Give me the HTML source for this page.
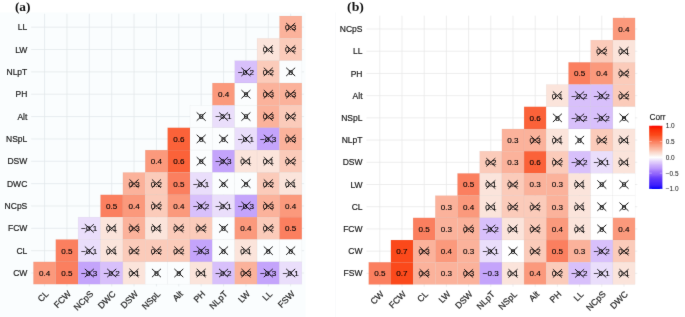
<!DOCTYPE html>
<html><head><meta charset="utf-8"><title>Correlation matrices</title>
<style>
html,body{margin:0;padding:0;background:#fff;}
body{width:685px;height:317px;overflow:hidden;}
svg{display:block;font-family:"Liberation Sans",sans-serif;}
.ttl{font-family:"Liberation Serif",serif;font-weight:bold;font-size:13px;fill:#111;}
</style></head><body>
<svg width="685" height="317" viewBox="0 0 685 317">
<defs><filter id="bl" x="0" y="0" width="685" height="317" filterUnits="userSpaceOnUse" color-interpolation-filters="sRGB"><feConvolveMatrix order="3" kernelMatrix="0.0052 0.0619 0.0052 0.0619 0.7314 0.0619 0.0052 0.0619 0.0052" divisor="1" edgeMode="duplicate" preserveAlpha="true"/></filter></defs>
<g id="all" filter="url(#bl)">
<rect x="-2" y="-2" width="689" height="321" fill="#fff"/>
<rect x="0" y="12.5" width="305.5" height="304.5" fill="#fafdfe"/>
<path d="M335.6 12.5V317" stroke="#f4f5f6" stroke-width="0.6"/>
<text class="ttl" x="14.9" y="10.9" textLength="15.6" lengthAdjust="spacingAndGlyphs">(a)</text>
<text class="ttl" x="347.1" y="11.1" textLength="16.8" lengthAdjust="spacingAndGlyphs">(b)</text>
<path d="M44.59 13.77V286.44M31.16 27.18H304.08M66.95 13.77V286.44M31.16 49.53H304.08M89.33 13.77V286.44M31.16 71.88H304.08M111.69 13.77V286.44M31.16 94.23H304.08M134.06 13.77V286.44M31.16 116.58H304.08M156.44 13.77V286.44M31.16 138.93H304.08M178.81 13.77V286.44M31.16 161.28H304.08M201.18 13.77V286.44M31.16 183.62H304.08M223.55 13.77V286.44M31.16 205.98H304.08M245.92 13.77V286.44M31.16 228.33H304.08M268.29 13.77V286.44M31.16 250.68H304.08M290.65 13.77V286.44M31.16 273.03H304.08" stroke="#e1e6e9" stroke-width="0.7" fill="none"/>
<g stroke="#8a8a8a" stroke-opacity="0.10" stroke-width="0.5"><rect x="279.47" y="16" width="22.37" height="22.35" fill="#FBB29B"/><rect x="257.1" y="38.35" width="22.37" height="22.35" fill="#FBE4DB"/><rect x="279.47" y="38.35" width="22.37" height="22.35" fill="#FBCBBA"/><rect x="234.73" y="60.7" width="22.37" height="22.35" fill="#D8C0FB"/><rect x="257.1" y="60.7" width="22.37" height="22.35" fill="#FBCBBA"/><rect x="279.47" y="60.7" width="22.37" height="22.35" fill="#fbfdfe"/><rect x="212.36" y="83.05" width="22.37" height="22.35" fill="#FB997C"/><rect x="234.73" y="83.05" width="22.37" height="22.35" fill="#fbfdfe"/><rect x="257.1" y="83.05" width="22.37" height="22.35" fill="#FBB29B"/><rect x="279.47" y="83.05" width="22.37" height="22.35" fill="#FBB29B"/><rect x="189.99" y="105.4" width="22.37" height="22.35" fill="#fbfdfe"/><rect x="212.36" y="105.4" width="22.37" height="22.35" fill="#EADEFB"/><rect x="234.73" y="105.4" width="22.37" height="22.35" fill="#fbfdfe"/><rect x="257.1" y="105.4" width="22.37" height="22.35" fill="#FBB29B"/><rect x="279.47" y="105.4" width="22.37" height="22.35" fill="#FBCBBA"/><rect x="167.62" y="127.75" width="22.37" height="22.35" fill="#FB6239"/><rect x="189.99" y="127.75" width="22.37" height="22.35" fill="#fbfdfe"/><rect x="212.36" y="127.75" width="22.37" height="22.35" fill="#fbfdfe"/><rect x="234.73" y="127.75" width="22.37" height="22.35" fill="#EADEFB"/><rect x="257.1" y="127.75" width="22.37" height="22.35" fill="#C4A4FB"/><rect x="279.47" y="127.75" width="22.37" height="22.35" fill="#FBB29B"/><rect x="145.25" y="150.1" width="22.37" height="22.35" fill="#FB997C"/><rect x="167.62" y="150.1" width="22.37" height="22.35" fill="#FB6239"/><rect x="189.99" y="150.1" width="22.37" height="22.35" fill="#fbfdfe"/><rect x="212.36" y="150.1" width="22.37" height="22.35" fill="#C4A4FB"/><rect x="234.73" y="150.1" width="22.37" height="22.35" fill="#FBE4DB"/><rect x="257.1" y="150.1" width="22.37" height="22.35" fill="#FBE4DB"/><rect x="279.47" y="150.1" width="22.37" height="22.35" fill="#FBCBBA"/><rect x="122.88" y="172.45" width="22.37" height="22.35" fill="#FBB29B"/><rect x="145.25" y="172.45" width="22.37" height="22.35" fill="#FBCBBA"/><rect x="167.62" y="172.45" width="22.37" height="22.35" fill="#FB7F5F"/><rect x="189.99" y="172.45" width="22.37" height="22.35" fill="#EADEFB"/><rect x="212.36" y="172.45" width="22.37" height="22.35" fill="#fbfdfe"/><rect x="234.73" y="172.45" width="22.37" height="22.35" fill="#fbfdfe"/><rect x="257.1" y="172.45" width="22.37" height="22.35" fill="#FBCBBA"/><rect x="279.47" y="172.45" width="22.37" height="22.35" fill="#FBE4DB"/><rect x="100.51" y="194.8" width="22.37" height="22.35" fill="#FB7F5F"/><rect x="122.88" y="194.8" width="22.37" height="22.35" fill="#FB997C"/><rect x="145.25" y="194.8" width="22.37" height="22.35" fill="#FBCBBA"/><rect x="167.62" y="194.8" width="22.37" height="22.35" fill="#FB997C"/><rect x="189.99" y="194.8" width="22.37" height="22.35" fill="#D8C0FB"/><rect x="212.36" y="194.8" width="22.37" height="22.35" fill="#EADEFB"/><rect x="234.73" y="194.8" width="22.37" height="22.35" fill="#C4A4FB"/><rect x="257.1" y="194.8" width="22.37" height="22.35" fill="#FBB29B"/><rect x="279.47" y="194.8" width="22.37" height="22.35" fill="#FB997C"/><rect x="78.14" y="217.15" width="22.37" height="22.35" fill="#EADEFB"/><rect x="100.51" y="217.15" width="22.37" height="22.35" fill="#FBE4DB"/><rect x="122.88" y="217.15" width="22.37" height="22.35" fill="#FBB29B"/><rect x="145.25" y="217.15" width="22.37" height="22.35" fill="#FBE4DB"/><rect x="167.62" y="217.15" width="22.37" height="22.35" fill="#FBCBBA"/><rect x="189.99" y="217.15" width="22.37" height="22.35" fill="#FBCBBA"/><rect x="212.36" y="217.15" width="22.37" height="22.35" fill="#fbfdfe"/><rect x="234.73" y="217.15" width="22.37" height="22.35" fill="#FB997C"/><rect x="257.1" y="217.15" width="22.37" height="22.35" fill="#FBCBBA"/><rect x="279.47" y="217.15" width="22.37" height="22.35" fill="#FB7F5F"/><rect x="55.77" y="239.5" width="22.37" height="22.35" fill="#FB7F5F"/><rect x="78.14" y="239.5" width="22.37" height="22.35" fill="#EADEFB"/><rect x="100.51" y="239.5" width="22.37" height="22.35" fill="#FBE4DB"/><rect x="122.88" y="239.5" width="22.37" height="22.35" fill="#FBCBBA"/><rect x="145.25" y="239.5" width="22.37" height="22.35" fill="#FBCBBA"/><rect x="167.62" y="239.5" width="22.37" height="22.35" fill="#FBCBBA"/><rect x="189.99" y="239.5" width="22.37" height="22.35" fill="#C4A4FB"/><rect x="212.36" y="239.5" width="22.37" height="22.35" fill="#fbfdfe"/><rect x="234.73" y="239.5" width="22.37" height="22.35" fill="#FBE4DB"/><rect x="257.1" y="239.5" width="22.37" height="22.35" fill="#fbfdfe"/><rect x="279.47" y="239.5" width="22.37" height="22.35" fill="#fbfdfe"/><rect x="33.4" y="261.85" width="22.37" height="22.35" fill="#FB997C"/><rect x="55.77" y="261.85" width="22.37" height="22.35" fill="#FB7F5F"/><rect x="78.14" y="261.85" width="22.37" height="22.35" fill="#C4A4FB"/><rect x="100.51" y="261.85" width="22.37" height="22.35" fill="#D8C0FB"/><rect x="122.88" y="261.85" width="22.37" height="22.35" fill="#FBE4DB"/><rect x="145.25" y="261.85" width="22.37" height="22.35" fill="#fbfdfe"/><rect x="167.62" y="261.85" width="22.37" height="22.35" fill="#fbfdfe"/><rect x="189.99" y="261.85" width="22.37" height="22.35" fill="#FBE4DB"/><rect x="212.36" y="261.85" width="22.37" height="22.35" fill="#D8C0FB"/><rect x="234.73" y="261.85" width="22.37" height="22.35" fill="#FBB29B"/><rect x="257.1" y="261.85" width="22.37" height="22.35" fill="#C4A4FB"/><rect x="279.47" y="261.85" width="22.37" height="22.35" fill="#EADEFB"/></g>
<g font-size="8.1" text-anchor="middle" fill="#000" stroke="#000" stroke-width="0.12"><text x="290.66" y="30.09">0.3</text><text x="268.29" y="52.44">0.1</text><text x="290.66" y="52.44">0.2</text><text x="245.92" y="74.79">−0.2</text><text x="268.29" y="74.79">0.2</text><text x="290.66" y="74.79">0</text><text x="223.55" y="97.14">0.4</text><text x="245.92" y="97.14">0</text><text x="268.29" y="97.14">0.3</text><text x="290.66" y="97.14">0.3</text><text x="201.18" y="119.49">0</text><text x="223.55" y="119.49">−0.1</text><text x="245.92" y="119.49">0</text><text x="268.29" y="119.49">0.3</text><text x="290.66" y="119.49">0.2</text><text x="178.81" y="141.84">0.6</text><text x="201.18" y="141.84">0</text><text x="223.55" y="141.84">0</text><text x="245.92" y="141.84">−0.1</text><text x="268.29" y="141.84">−0.3</text><text x="290.66" y="141.84">0.3</text><text x="156.44" y="164.19">0.4</text><text x="178.81" y="164.19">0.6</text><text x="201.18" y="164.19">0</text><text x="223.55" y="164.19">−0.3</text><text x="245.92" y="164.19">0.1</text><text x="268.29" y="164.19">0.1</text><text x="290.66" y="164.19">0.2</text><text x="134.06" y="186.54">0.3</text><text x="156.44" y="186.54">0.2</text><text x="178.81" y="186.54">0.5</text><text x="201.18" y="186.54">−0.1</text><text x="223.55" y="186.54">0</text><text x="245.92" y="186.54">0</text><text x="268.29" y="186.54">0.2</text><text x="290.66" y="186.54">0.1</text><text x="111.69" y="208.89">0.5</text><text x="134.06" y="208.89">0.4</text><text x="156.44" y="208.89">0.2</text><text x="178.81" y="208.89">0.4</text><text x="201.18" y="208.89">−0.2</text><text x="223.55" y="208.89">−0.1</text><text x="245.92" y="208.89">−0.3</text><text x="268.29" y="208.89">0.3</text><text x="290.66" y="208.89">0.4</text><text x="89.33" y="231.24">−0.1</text><text x="111.69" y="231.24">0.1</text><text x="134.06" y="231.24">0.3</text><text x="156.44" y="231.24">0.1</text><text x="178.81" y="231.24">0.2</text><text x="201.18" y="231.24">0.2</text><text x="223.55" y="231.24">0</text><text x="245.92" y="231.24">0.4</text><text x="268.29" y="231.24">0.2</text><text x="290.66" y="231.24">0.5</text><text x="66.95" y="253.59">0.5</text><text x="89.33" y="253.59">−0.1</text><text x="111.69" y="253.59">0.1</text><text x="134.06" y="253.59">0.2</text><text x="156.44" y="253.59">0.2</text><text x="178.81" y="253.59">0.2</text><text x="201.18" y="253.59">−0.3</text><text x="223.55" y="253.59">0</text><text x="245.92" y="253.59">0.1</text><text x="268.29" y="253.59">0</text><text x="290.66" y="253.59">0</text><text x="44.59" y="275.94">0.4</text><text x="66.95" y="275.94">0.5</text><text x="89.33" y="275.94">−0.3</text><text x="111.69" y="275.94">−0.2</text><text x="134.06" y="275.94">0.1</text><text x="156.44" y="275.94">0</text><text x="178.81" y="275.94">0</text><text x="201.18" y="275.94">0.1</text><text x="223.55" y="275.94">−0.2</text><text x="245.92" y="275.94">0.3</text><text x="268.29" y="275.94">−0.3</text><text x="290.66" y="275.94">−0.1</text></g>
<path d="M286.16 23.02l9 8.3M286.16 31.33l9 -8.3M263.79 45.38l9 8.3M263.79 53.68l9 -8.3M286.16 45.38l9 8.3M286.16 53.68l9 -8.3M241.42 67.72l9 8.3M241.42 76.03l9 -8.3M263.79 67.72l9 8.3M263.79 76.03l9 -8.3M286.16 67.72l9 8.3M286.16 76.03l9 -8.3M241.42 90.08l9 8.3M241.42 98.38l9 -8.3M263.79 90.08l9 8.3M263.79 98.38l9 -8.3M286.16 90.08l9 8.3M286.16 98.38l9 -8.3M196.68 112.42l9 8.3M196.68 120.73l9 -8.3M219.05 112.42l9 8.3M219.05 120.73l9 -8.3M241.42 112.42l9 8.3M241.42 120.73l9 -8.3M263.79 112.42l9 8.3M263.79 120.73l9 -8.3M286.16 112.42l9 8.3M286.16 120.73l9 -8.3M196.68 134.78l9 8.3M196.68 143.08l9 -8.3M219.05 134.78l9 8.3M219.05 143.08l9 -8.3M241.42 134.78l9 8.3M241.42 143.08l9 -8.3M263.79 134.78l9 8.3M263.79 143.08l9 -8.3M286.16 134.78l9 8.3M286.16 143.08l9 -8.3M196.68 157.13l9 8.3M196.68 165.43l9 -8.3M219.05 157.13l9 8.3M219.05 165.43l9 -8.3M241.42 157.13l9 8.3M241.42 165.43l9 -8.3M263.79 157.13l9 8.3M263.79 165.43l9 -8.3M286.16 157.13l9 8.3M286.16 165.43l9 -8.3M129.56 179.48l9 8.3M129.56 187.78l9 -8.3M151.94 179.48l9 8.3M151.94 187.78l9 -8.3M196.68 179.48l9 8.3M196.68 187.78l9 -8.3M219.05 179.48l9 8.3M219.05 187.78l9 -8.3M241.42 179.48l9 8.3M241.42 187.78l9 -8.3M263.79 179.48l9 8.3M263.79 187.78l9 -8.3M286.16 179.48l9 8.3M286.16 187.78l9 -8.3M151.94 201.83l9 8.3M151.94 210.13l9 -8.3M196.68 201.83l9 8.3M196.68 210.13l9 -8.3M219.05 201.83l9 8.3M219.05 210.13l9 -8.3M241.42 201.83l9 8.3M241.42 210.13l9 -8.3M263.79 201.83l9 8.3M263.79 210.13l9 -8.3M84.83 224.18l9 8.3M84.83 232.48l9 -8.3M107.19 224.18l9 8.3M107.19 232.48l9 -8.3M129.56 224.18l9 8.3M129.56 232.48l9 -8.3M151.94 224.18l9 8.3M151.94 232.48l9 -8.3M174.31 224.18l9 8.3M174.31 232.48l9 -8.3M196.68 224.18l9 8.3M196.68 232.48l9 -8.3M219.05 224.18l9 8.3M219.05 232.48l9 -8.3M263.79 224.18l9 8.3M263.79 232.48l9 -8.3M84.83 246.53l9 8.3M84.83 254.83l9 -8.3M107.19 246.53l9 8.3M107.19 254.83l9 -8.3M129.56 246.53l9 8.3M129.56 254.83l9 -8.3M151.94 246.53l9 8.3M151.94 254.83l9 -8.3M174.31 246.53l9 8.3M174.31 254.83l9 -8.3M196.68 246.53l9 8.3M196.68 254.83l9 -8.3M219.05 246.53l9 8.3M219.05 254.83l9 -8.3M241.42 246.53l9 8.3M241.42 254.83l9 -8.3M263.79 246.53l9 8.3M263.79 254.83l9 -8.3M286.16 246.53l9 8.3M286.16 254.83l9 -8.3M84.83 268.88l9 8.3M84.83 277.18l9 -8.3M107.19 268.88l9 8.3M107.19 277.18l9 -8.3M129.56 268.88l9 8.3M129.56 277.18l9 -8.3M151.94 268.88l9 8.3M151.94 277.18l9 -8.3M174.31 268.88l9 8.3M174.31 277.18l9 -8.3M196.68 268.88l9 8.3M196.68 277.18l9 -8.3M219.05 268.88l9 8.3M219.05 277.18l9 -8.3M241.42 268.88l9 8.3M241.42 277.18l9 -8.3M263.79 268.88l9 8.3M263.79 277.18l9 -8.3M286.16 268.88l9 8.3M286.16 277.18l9 -8.3" stroke="#000" stroke-width="0.9" fill="none"/>
<g font-size="8.5" text-anchor="end" fill="#222" stroke="#222" stroke-width="0.2"><text x="27.3" y="30.23">LL</text><text x="27.3" y="52.59">LW</text><text x="27.3" y="74.94">NLpT</text><text x="27.3" y="97.29">PH</text><text x="27.3" y="119.64">Alt</text><text x="27.3" y="141.99">NSpL</text><text x="27.3" y="164.34">DSW</text><text x="27.3" y="186.69">DWC</text><text x="27.3" y="209.04">NCpS</text><text x="27.3" y="231.39">FCW</text><text x="27.3" y="253.74">CL</text><text x="27.3" y="276.09">CW</text></g>
<g font-size="8.8" text-anchor="end" fill="#222" stroke="#222" stroke-width="0.2"><text transform="translate(44.59 289.84) rotate(-45)" x="0" y="6.51">CL</text><text transform="translate(66.95 289.84) rotate(-45)" x="0" y="6.51">FCW</text><text transform="translate(89.33 289.84) rotate(-45)" x="0" y="6.51">NCpS</text><text transform="translate(111.69 289.84) rotate(-45)" x="0" y="6.51">DWC</text><text transform="translate(134.06 289.84) rotate(-45)" x="0" y="6.51">DSW</text><text transform="translate(156.44 289.84) rotate(-45)" x="0" y="6.51">NSpL</text><text transform="translate(178.81 289.84) rotate(-45)" x="0" y="6.51">Alt</text><text transform="translate(201.18 289.84) rotate(-45)" x="0" y="6.51">PH</text><text transform="translate(223.55 289.84) rotate(-45)" x="0" y="6.51">NLpT</text><text transform="translate(245.92 289.84) rotate(-45)" x="0" y="6.51">LW</text><text transform="translate(268.29 289.84) rotate(-45)" x="0" y="6.51">LL</text><text transform="translate(290.65 289.84) rotate(-45)" x="0" y="6.51">FSW</text></g>
<path d="M379.8 15.68V286.7M366.48 29.01H637.32M402 15.68V286.7M366.48 51.22H637.32M424.2 15.68V286.7M366.48 73.44H637.32M446.4 15.68V286.7M366.48 95.65H637.32M468.6 15.68V286.7M366.48 117.87H637.32M490.8 15.68V286.7M366.48 140.08H637.32M513 15.68V286.7M366.48 162.3H637.32M535.2 15.68V286.7M366.48 184.51H637.32M557.4 15.68V286.7M366.48 206.73H637.32M579.6 15.68V286.7M366.48 228.94H637.32M601.8 15.68V286.7M366.48 251.16H637.32M624 15.68V286.7M366.48 273.37H637.32" stroke="#e6e6e6" stroke-width="0.7" fill="none"/>
<g stroke="#8a8a8a" stroke-opacity="0.10" stroke-width="0.5"><rect x="612.9" y="17.9" width="22.2" height="22.21" fill="#FB997C"/><rect x="590.7" y="40.11" width="22.2" height="22.21" fill="#FBCBBA"/><rect x="612.9" y="40.11" width="22.2" height="22.21" fill="#FBE4DB"/><rect x="568.5" y="62.33" width="22.2" height="22.21" fill="#FB7F5F"/><rect x="590.7" y="62.33" width="22.2" height="22.21" fill="#FB997C"/><rect x="612.9" y="62.33" width="22.2" height="22.21" fill="#FBCBBA"/><rect x="546.3" y="84.54" width="22.2" height="22.21" fill="#FBE4DB"/><rect x="568.5" y="84.54" width="22.2" height="22.21" fill="#D8C0FB"/><rect x="590.7" y="84.54" width="22.2" height="22.21" fill="#D8C0FB"/><rect x="612.9" y="84.54" width="22.2" height="22.21" fill="#FBCBBA"/><rect x="524.1" y="106.76" width="22.2" height="22.21" fill="#FB6239"/><rect x="546.3" y="106.76" width="22.2" height="22.21" fill="#FFFFFF"/><rect x="568.5" y="106.76" width="22.2" height="22.21" fill="#D8C0FB"/><rect x="590.7" y="106.76" width="22.2" height="22.21" fill="#D8C0FB"/><rect x="612.9" y="106.76" width="22.2" height="22.21" fill="#FFFFFF"/><rect x="501.9" y="128.97" width="22.2" height="22.21" fill="#FBB29B"/><rect x="524.1" y="128.97" width="22.2" height="22.21" fill="#FBB29B"/><rect x="546.3" y="128.97" width="22.2" height="22.21" fill="#FBE4DB"/><rect x="568.5" y="128.97" width="22.2" height="22.21" fill="#FFFFFF"/><rect x="590.7" y="128.97" width="22.2" height="22.21" fill="#FBCBBA"/><rect x="612.9" y="128.97" width="22.2" height="22.21" fill="#FBE4DB"/><rect x="479.7" y="151.19" width="22.2" height="22.21" fill="#FBCBBA"/><rect x="501.9" y="151.19" width="22.2" height="22.21" fill="#FBB29B"/><rect x="524.1" y="151.19" width="22.2" height="22.21" fill="#FB6239"/><rect x="546.3" y="151.19" width="22.2" height="22.21" fill="#FBCBBA"/><rect x="568.5" y="151.19" width="22.2" height="22.21" fill="#D8C0FB"/><rect x="590.7" y="151.19" width="22.2" height="22.21" fill="#EADEFB"/><rect x="612.9" y="151.19" width="22.2" height="22.21" fill="#FBE4DB"/><rect x="457.5" y="173.41" width="22.2" height="22.21" fill="#FB7F5F"/><rect x="479.7" y="173.41" width="22.2" height="22.21" fill="#FBE4DB"/><rect x="501.9" y="173.41" width="22.2" height="22.21" fill="#FBCBBA"/><rect x="524.1" y="173.41" width="22.2" height="22.21" fill="#FBB29B"/><rect x="546.3" y="173.41" width="22.2" height="22.21" fill="#FBB29B"/><rect x="568.5" y="173.41" width="22.2" height="22.21" fill="#FBE4DB"/><rect x="590.7" y="173.41" width="22.2" height="22.21" fill="#FFFFFF"/><rect x="612.9" y="173.41" width="22.2" height="22.21" fill="#FFFFFF"/><rect x="435.3" y="195.62" width="22.2" height="22.21" fill="#FBB29B"/><rect x="457.5" y="195.62" width="22.2" height="22.21" fill="#FB997C"/><rect x="479.7" y="195.62" width="22.2" height="22.21" fill="#FBE4DB"/><rect x="501.9" y="195.62" width="22.2" height="22.21" fill="#FBCBBA"/><rect x="524.1" y="195.62" width="22.2" height="22.21" fill="#FBCBBA"/><rect x="546.3" y="195.62" width="22.2" height="22.21" fill="#FBB29B"/><rect x="568.5" y="195.62" width="22.2" height="22.21" fill="#FBE4DB"/><rect x="590.7" y="195.62" width="22.2" height="22.21" fill="#FFFFFF"/><rect x="612.9" y="195.62" width="22.2" height="22.21" fill="#FFFFFF"/><rect x="413.1" y="217.84" width="22.2" height="22.21" fill="#FB7F5F"/><rect x="435.3" y="217.84" width="22.2" height="22.21" fill="#FBB29B"/><rect x="457.5" y="217.84" width="22.2" height="22.21" fill="#FBB29B"/><rect x="479.7" y="217.84" width="22.2" height="22.21" fill="#D8C0FB"/><rect x="501.9" y="217.84" width="22.2" height="22.21" fill="#FBE4DB"/><rect x="524.1" y="217.84" width="22.2" height="22.21" fill="#FBCBBA"/><rect x="546.3" y="217.84" width="22.2" height="22.21" fill="#FB997C"/><rect x="568.5" y="217.84" width="22.2" height="22.21" fill="#FBE4DB"/><rect x="590.7" y="217.84" width="22.2" height="22.21" fill="#FFFFFF"/><rect x="612.9" y="217.84" width="22.2" height="22.21" fill="#FB997C"/><rect x="390.9" y="240.05" width="22.2" height="22.21" fill="#FB491B"/><rect x="413.1" y="240.05" width="22.2" height="22.21" fill="#FBB29B"/><rect x="435.3" y="240.05" width="22.2" height="22.21" fill="#FB997C"/><rect x="457.5" y="240.05" width="22.2" height="22.21" fill="#FBB29B"/><rect x="479.7" y="240.05" width="22.2" height="22.21" fill="#EADEFB"/><rect x="501.9" y="240.05" width="22.2" height="22.21" fill="#FFFFFF"/><rect x="524.1" y="240.05" width="22.2" height="22.21" fill="#FBCBBA"/><rect x="546.3" y="240.05" width="22.2" height="22.21" fill="#FB7F5F"/><rect x="568.5" y="240.05" width="22.2" height="22.21" fill="#FBB29B"/><rect x="590.7" y="240.05" width="22.2" height="22.21" fill="#D8C0FB"/><rect x="612.9" y="240.05" width="22.2" height="22.21" fill="#FBCBBA"/><rect x="368.7" y="262.26" width="22.2" height="22.21" fill="#FB7F5F"/><rect x="390.9" y="262.26" width="22.2" height="22.21" fill="#FB491B"/><rect x="413.1" y="262.26" width="22.2" height="22.21" fill="#FBB29B"/><rect x="435.3" y="262.26" width="22.2" height="22.21" fill="#FBB29B"/><rect x="457.5" y="262.26" width="22.2" height="22.21" fill="#FBB29B"/><rect x="479.7" y="262.26" width="22.2" height="22.21" fill="#C4A4FB"/><rect x="501.9" y="262.26" width="22.2" height="22.21" fill="#FBE4DB"/><rect x="524.1" y="262.26" width="22.2" height="22.21" fill="#FB997C"/><rect x="546.3" y="262.26" width="22.2" height="22.21" fill="#FBCBBA"/><rect x="568.5" y="262.26" width="22.2" height="22.21" fill="#D8C0FB"/><rect x="590.7" y="262.26" width="22.2" height="22.21" fill="#EADEFB"/><rect x="612.9" y="262.26" width="22.2" height="22.21" fill="#FBE4DB"/></g>
<g font-size="8.1" text-anchor="middle" fill="#000" stroke="#000" stroke-width="0.12"><text x="624" y="31.92">0.4</text><text x="601.8" y="54.14">0.2</text><text x="624" y="54.14">0.1</text><text x="579.6" y="76.35">0.5</text><text x="601.8" y="76.35">0.4</text><text x="624" y="76.35">0.2</text><text x="557.4" y="98.57">0.1</text><text x="579.6" y="98.57">−0.2</text><text x="601.8" y="98.57">−0.2</text><text x="624" y="98.57">0.2</text><text x="535.2" y="120.78">0.6</text><text x="557.4" y="120.78">0</text><text x="579.6" y="120.78">−0.2</text><text x="601.8" y="120.78">−0.2</text><text x="624" y="120.78">0</text><text x="513" y="143">0.3</text><text x="535.2" y="143">0.3</text><text x="557.4" y="143">0.1</text><text x="579.6" y="143">0</text><text x="601.8" y="143">0.2</text><text x="624" y="143">0.1</text><text x="490.8" y="165.21">0.2</text><text x="513" y="165.21">0.3</text><text x="535.2" y="165.21">0.6</text><text x="557.4" y="165.21">0.2</text><text x="579.6" y="165.21">−0.2</text><text x="601.8" y="165.21">−0.1</text><text x="624" y="165.21">0.1</text><text x="468.6" y="187.43">0.5</text><text x="490.8" y="187.43">0.1</text><text x="513" y="187.43">0.2</text><text x="535.2" y="187.43">0.3</text><text x="557.4" y="187.43">0.3</text><text x="579.6" y="187.43">0.1</text><text x="601.8" y="187.43">0</text><text x="624" y="187.43">0</text><text x="446.4" y="209.64">0.3</text><text x="468.6" y="209.64">0.4</text><text x="490.8" y="209.64">0.1</text><text x="513" y="209.64">0.2</text><text x="535.2" y="209.64">0.2</text><text x="557.4" y="209.64">0.3</text><text x="579.6" y="209.64">0.1</text><text x="601.8" y="209.64">0</text><text x="624" y="209.64">0</text><text x="424.2" y="231.86">0.5</text><text x="446.4" y="231.86">0.3</text><text x="468.6" y="231.86">0.3</text><text x="490.8" y="231.86">−0.2</text><text x="513" y="231.86">0.1</text><text x="535.2" y="231.86">0.2</text><text x="557.4" y="231.86">0.4</text><text x="579.6" y="231.86">0.1</text><text x="601.8" y="231.86">0</text><text x="624" y="231.86">0.4</text><text x="402" y="254.07">0.7</text><text x="424.2" y="254.07">0.3</text><text x="446.4" y="254.07">0.4</text><text x="468.6" y="254.07">0.3</text><text x="490.8" y="254.07">−0.1</text><text x="513" y="254.07">0</text><text x="535.2" y="254.07">0.2</text><text x="557.4" y="254.07">0.5</text><text x="579.6" y="254.07">0.3</text><text x="601.8" y="254.07">−0.2</text><text x="624" y="254.07">0.2</text><text x="379.8" y="276.29">0.5</text><text x="402" y="276.29">0.7</text><text x="424.2" y="276.29">0.3</text><text x="446.4" y="276.29">0.3</text><text x="468.6" y="276.29">0.3</text><text x="490.8" y="276.29">−0.3</text><text x="513" y="276.29">0.1</text><text x="535.2" y="276.29">0.4</text><text x="557.4" y="276.29">0.2</text><text x="579.6" y="276.29">−0.2</text><text x="601.8" y="276.29">−0.1</text><text x="624" y="276.29">0.1</text></g>
<path d="M597.3 47.07l9 8.3M597.3 55.37l9 -8.3M619.5 47.07l9 8.3M619.5 55.37l9 -8.3M619.5 69.29l9 8.3M619.5 77.59l9 -8.3M552.9 91.5l9 8.3M552.9 99.8l9 -8.3M575.1 91.5l9 8.3M575.1 99.8l9 -8.3M597.3 91.5l9 8.3M597.3 99.8l9 -8.3M619.5 91.5l9 8.3M619.5 99.8l9 -8.3M552.9 113.72l9 8.3M552.9 122.02l9 -8.3M575.1 113.72l9 8.3M575.1 122.02l9 -8.3M597.3 113.72l9 8.3M597.3 122.02l9 -8.3M619.5 113.72l9 8.3M619.5 122.02l9 -8.3M530.7 135.93l9 8.3M530.7 144.23l9 -8.3M552.9 135.93l9 8.3M552.9 144.23l9 -8.3M575.1 135.93l9 8.3M575.1 144.23l9 -8.3M597.3 135.93l9 8.3M597.3 144.23l9 -8.3M619.5 135.93l9 8.3M619.5 144.23l9 -8.3M486.3 158.15l9 8.3M486.3 166.45l9 -8.3M552.9 158.15l9 8.3M552.9 166.45l9 -8.3M575.1 158.15l9 8.3M575.1 166.45l9 -8.3M597.3 158.15l9 8.3M597.3 166.45l9 -8.3M619.5 158.15l9 8.3M619.5 166.45l9 -8.3M486.3 180.36l9 8.3M486.3 188.66l9 -8.3M508.5 180.36l9 8.3M508.5 188.66l9 -8.3M575.1 180.36l9 8.3M575.1 188.66l9 -8.3M597.3 180.36l9 8.3M597.3 188.66l9 -8.3M619.5 180.36l9 8.3M619.5 188.66l9 -8.3M486.3 202.58l9 8.3M486.3 210.88l9 -8.3M508.5 202.58l9 8.3M508.5 210.88l9 -8.3M530.7 202.58l9 8.3M530.7 210.88l9 -8.3M575.1 202.58l9 8.3M575.1 210.88l9 -8.3M597.3 202.58l9 8.3M597.3 210.88l9 -8.3M619.5 202.58l9 8.3M619.5 210.88l9 -8.3M464.1 224.79l9 8.3M464.1 233.09l9 -8.3M486.3 224.79l9 8.3M486.3 233.09l9 -8.3M508.5 224.79l9 8.3M508.5 233.09l9 -8.3M530.7 224.79l9 8.3M530.7 233.09l9 -8.3M575.1 224.79l9 8.3M575.1 233.09l9 -8.3M597.3 224.79l9 8.3M597.3 233.09l9 -8.3M419.7 247.01l9 8.3M419.7 255.31l9 -8.3M486.3 247.01l9 8.3M486.3 255.31l9 -8.3M508.5 247.01l9 8.3M508.5 255.31l9 -8.3M530.7 247.01l9 8.3M530.7 255.31l9 -8.3M597.3 247.01l9 8.3M597.3 255.31l9 -8.3M619.5 247.01l9 8.3M619.5 255.31l9 -8.3M419.7 269.22l9 8.3M419.7 277.52l9 -8.3M464.1 269.22l9 8.3M464.1 277.52l9 -8.3M508.5 269.22l9 8.3M508.5 277.52l9 -8.3M552.9 269.22l9 8.3M552.9 277.52l9 -8.3M575.1 269.22l9 8.3M575.1 277.52l9 -8.3M597.3 269.22l9 8.3M597.3 277.52l9 -8.3M619.5 269.22l9 8.3M619.5 277.52l9 -8.3" stroke="#000" stroke-width="0.9" fill="none"/>
<g font-size="8.5" text-anchor="end" fill="#222" stroke="#222" stroke-width="0.2"><text x="362.5" y="32.07">NCpS</text><text x="362.5" y="54.28">LL</text><text x="362.5" y="76.5">PH</text><text x="362.5" y="98.71">Alt</text><text x="362.5" y="120.93">NSpL</text><text x="362.5" y="143.14">NLpT</text><text x="362.5" y="165.36">DSW</text><text x="362.5" y="187.57">LW</text><text x="362.5" y="209.79">CL</text><text x="362.5" y="232">FCW</text><text x="362.5" y="254.22">CW</text><text x="362.5" y="276.43">FSW</text></g>
<g font-size="8.8" text-anchor="end" fill="#222" stroke="#222" stroke-width="0.2"><text transform="translate(379.8 290.1) rotate(-45)" x="0" y="6.51">CW</text><text transform="translate(402 290.1) rotate(-45)" x="0" y="6.51">FCW</text><text transform="translate(424.2 290.1) rotate(-45)" x="0" y="6.51">CL</text><text transform="translate(446.4 290.1) rotate(-45)" x="0" y="6.51">LW</text><text transform="translate(468.6 290.1) rotate(-45)" x="0" y="6.51">DSW</text><text transform="translate(490.8 290.1) rotate(-45)" x="0" y="6.51">NLpT</text><text transform="translate(513 290.1) rotate(-45)" x="0" y="6.51">NSpL</text><text transform="translate(535.2 290.1) rotate(-45)" x="0" y="6.51">Alt</text><text transform="translate(557.4 290.1) rotate(-45)" x="0" y="6.51">PH</text><text transform="translate(579.6 290.1) rotate(-45)" x="0" y="6.51">LL</text><text transform="translate(601.8 290.1) rotate(-45)" x="0" y="6.51">NCpS</text><text transform="translate(624 290.1) rotate(-45)" x="0" y="6.51">DWC</text></g>
<defs><linearGradient id="lg" x1="0" y1="0" x2="0" y2="1"><stop offset="0" stop-color="#FB0000"/><stop offset="0.03" stop-color="#FB1A00"/><stop offset="0.05" stop-color="#FB2603"/><stop offset="0.07" stop-color="#FB310A"/><stop offset="0.1" stop-color="#FB3A10"/><stop offset="0.12" stop-color="#FB4215"/><stop offset="0.15" stop-color="#FB491B"/><stop offset="0.17" stop-color="#FB572A"/><stop offset="0.2" stop-color="#FB6239"/><stop offset="0.23" stop-color="#FB714C"/><stop offset="0.25" stop-color="#FB7F5F"/><stop offset="0.28" stop-color="#FB8C6D"/><stop offset="0.3" stop-color="#FB997C"/><stop offset="0.33" stop-color="#FBA58C"/><stop offset="0.35" stop-color="#FBB29B"/><stop offset="0.38" stop-color="#FBBFAA"/><stop offset="0.4" stop-color="#FBCBBA"/><stop offset="0.42" stop-color="#FBD7CA"/><stop offset="0.45" stop-color="#FBE4DB"/><stop offset="0.47" stop-color="#FBEFEA"/><stop offset="0.5" stop-color="#FFFFFF"/><stop offset="0.53" stop-color="#F2ECFB"/><stop offset="0.55" stop-color="#EADEFB"/><stop offset="0.57" stop-color="#E2CFFB"/><stop offset="0.6" stop-color="#D8C0FB"/><stop offset="0.62" stop-color="#CEB1FB"/><stop offset="0.65" stop-color="#C4A4FB"/><stop offset="0.68" stop-color="#B995FB"/><stop offset="0.7" stop-color="#AE86FB"/><stop offset="0.72" stop-color="#A378FB"/><stop offset="0.75" stop-color="#9569FB"/><stop offset="0.78" stop-color="#885CFB"/><stop offset="0.8" stop-color="#784DFB"/><stop offset="0.82" stop-color="#6B41FB"/><stop offset="0.85" stop-color="#5D35FB"/><stop offset="0.88" stop-color="#542EFB"/><stop offset="0.9" stop-color="#4B28FB"/><stop offset="0.93" stop-color="#4121FB"/><stop offset="0.95" stop-color="#3419FB"/><stop offset="0.97" stop-color="#230EFB"/><stop offset="1" stop-color="#0000FB"/></linearGradient></defs>
<rect x="649.2" y="125.7" width="13.2" height="63.3" fill="url(#lg)"/>
<path d="M649.2 125.7h2.6M662.4 125.7h-2.6M649.2 141.53h2.6M662.4 141.53h-2.6M649.2 157.35h2.6M662.4 157.35h-2.6M649.2 173.18h2.6M662.4 173.18h-2.6M649.2 189h2.6M662.4 189h-2.6" stroke="#fff" stroke-opacity="0.7" stroke-width="0.5" fill="none"/>
<g font-size="6.5" fill="#262626" stroke="#262626" stroke-width="0.05"><text x="665.7" y="128.14">1.0</text><text x="665.7" y="143.97">0.5</text><text x="665.7" y="159.79">0.0</text><text x="665.7" y="175.62">−0.5</text><text x="665.7" y="191.44">−1.0</text></g>
<text x="649.5" y="120.3" font-size="8.3" fill="#111" stroke="#111" stroke-width="0.1">Corr</text>
</g>
</svg>
</body></html>
